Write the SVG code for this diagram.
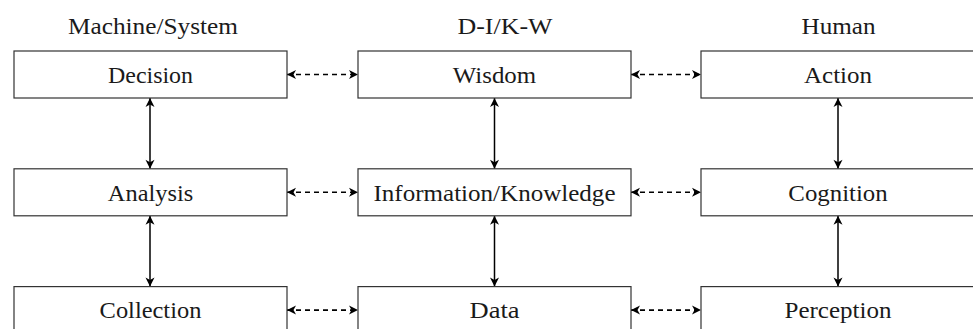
<svg xmlns="http://www.w3.org/2000/svg" width="973" height="329" viewBox="0 0 973 329">
  <defs>
    <marker id="tip" markerUnits="userSpaceOnUse" markerWidth="11" markerHeight="11" viewBox="0 0 11 11" refX="10" refY="5.5" orient="auto-start-reverse">
      <path d="M1,1 L10,5.5 L1,10 L3.5,5.5 Z" fill="#000"/>
    </marker>
    <style>
      .box { fill: #fff; stroke: #333; stroke-width: 1.2; }
      .lbl { font-family: "Liberation Serif", "DejaVu Serif", serif; font-size: 23px; fill: #1a1a1a; text-anchor: middle; }
      .solid { stroke: #000; stroke-width: 1.5; fill: none; marker-start: url(#tip); marker-end: url(#tip); }
      .dash { stroke: #000; stroke-width: 1.6; fill: none; stroke-dasharray: 5 4; marker-start: url(#tip); marker-end: url(#tip); }
    </style>
  </defs>
  <rect width="973" height="329" fill="#fff"/>

  <!-- column headers -->
  <g id="headers">
    <text class="lbl" x="153" y="34" textLength="170" lengthAdjust="spacingAndGlyphs">Machine/System</text>
    <text class="lbl" x="505" y="34" textLength="95" lengthAdjust="spacingAndGlyphs">D-I/K-W</text>
    <text class="lbl" x="838.5" y="34" textLength="74" lengthAdjust="spacingAndGlyphs">Human</text>
  </g>

  <!-- connectors -->
  <g id="connectors">
    <line class="solid" x1="150" y1="98" x2="150" y2="168.8"/>
    <line class="solid" x1="150" y1="215.8" x2="150" y2="286.6"/>
    <line class="solid" x1="494.5" y1="98" x2="494.5" y2="168.8"/>
    <line class="solid" x1="494.5" y1="215.8" x2="494.5" y2="286.6"/>
    <line class="solid" x1="838" y1="98" x2="838" y2="168.8"/>
    <line class="solid" x1="838" y1="215.8" x2="838" y2="286.6"/>

    <line class="dash" x1="287" y1="74.5" x2="358" y2="74.5"/>
    <line class="dash" x1="631" y1="74.5" x2="701" y2="74.5"/>
    <line class="dash" x1="287" y1="192.3" x2="358" y2="192.3"/>
    <line class="dash" x1="631" y1="192.3" x2="701" y2="192.3"/>
    <line class="dash" x1="287" y1="310.1" x2="358" y2="310.1"/>
    <line class="dash" x1="631" y1="310.1" x2="701" y2="310.1"/>
  </g>

  <!-- machine / system column -->
  <g id="decision">
    <rect class="box" x="14" y="51" width="273" height="47"/>
    <text class="lbl" x="150.5" y="82.8" textLength="85" lengthAdjust="spacingAndGlyphs">Decision</text>
  </g>
  <g id="analysis">
    <rect class="box" x="14" y="168.8" width="273" height="47"/>
    <text class="lbl" x="150.5" y="200.6" textLength="85.3" lengthAdjust="spacingAndGlyphs">Analysis</text>
  </g>
  <g id="collection">
    <rect class="box" x="14" y="286.6" width="273" height="47"/>
    <text class="lbl" x="150.5" y="318.4" textLength="101.8" lengthAdjust="spacingAndGlyphs">Collection</text>
  </g>

  <!-- D-I/K-W column -->
  <g id="wisdom">
    <rect class="box" x="358" y="51" width="273" height="47"/>
    <text class="lbl" x="494.5" y="82.8" textLength="83.3" lengthAdjust="spacingAndGlyphs">Wisdom</text>
  </g>
  <g id="information-knowledge">
    <rect class="box" x="358" y="168.8" width="273" height="47"/>
    <text class="lbl" x="494.5" y="200.6" textLength="242" lengthAdjust="spacingAndGlyphs">Information/Knowledge</text>
  </g>
  <g id="data">
    <rect class="box" x="358" y="286.6" width="273" height="47"/>
    <text class="lbl" x="494.5" y="318.4" textLength="50" lengthAdjust="spacingAndGlyphs">Data</text>
  </g>

  <!-- human column -->
  <g id="action">
    <rect class="box" x="701" y="51" width="273" height="47"/>
    <text class="lbl" x="838" y="82.8" textLength="68" lengthAdjust="spacingAndGlyphs">Action</text>
  </g>
  <g id="cognition">
    <rect class="box" x="701" y="168.8" width="273" height="47"/>
    <text class="lbl" x="838" y="200.6" textLength="99.3" lengthAdjust="spacingAndGlyphs">Cognition</text>
  </g>
  <g id="perception">
    <rect class="box" x="701" y="286.6" width="273" height="47"/>
    <text class="lbl" x="838" y="318.4" textLength="107" lengthAdjust="spacingAndGlyphs">Perception</text>
  </g>
</svg>
